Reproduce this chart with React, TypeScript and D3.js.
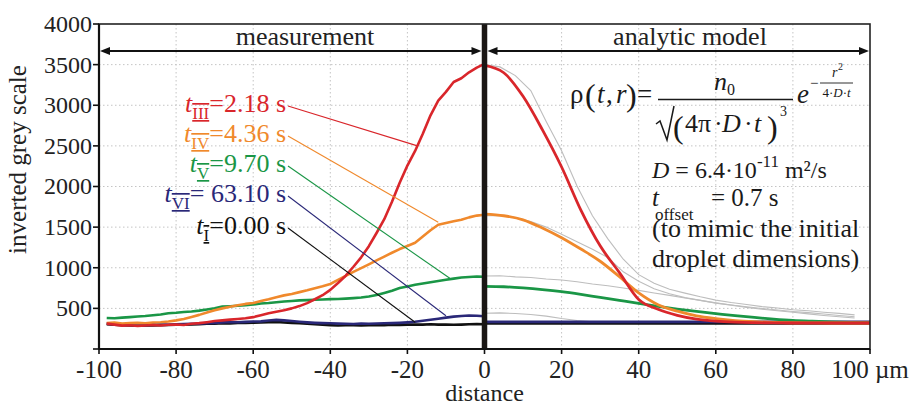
import React from 'react'
import * as d3 from 'd3'

// measured profiles, left half (distance in µm)
const measDist = [-98, -96, -94, -92, -90, -88, -86, -84, -82, -80, -78, -76, -74, -72, -70, -68, -66, -64, -62, -60, -58, -56, -54, -52, -50, -48, -46, -44, -42, -40, -38, -36, -34, -32, -30, -28, -26, -24, -22, -20, -18, -16, -14, -12, -10, -8, -6, -4, -2, 0]
const measRed = [312, 300, 288, 292, 284, 290, 296, 289, 298, 302, 296, 310, 318, 330, 344, 352, 362, 370, 378, 392, 415, 440, 458, 476, 500, 528, 565, 612, 662, 728, 812, 902, 1012, 1128, 1265, 1428, 1598, 1812, 2045, 2258, 2438, 2650, 2876, 3058, 3165, 3286, 3332, 3405, 3462, 3510]
const measOrange = [318, 325, 312, 318, 322, 316, 326, 330, 338, 352, 370, 395, 420, 448, 476, 500, 520, 538, 555, 566, 590, 612, 638, 660, 678, 700, 722, 748, 772, 800, 850, 900, 950, 995, 1042, 1090, 1138, 1185, 1230, 1268, 1308, 1385, 1462, 1530, 1552, 1572, 1590, 1620, 1642, 1652]
const measGreen = [382, 378, 386, 392, 400, 406, 416, 425, 440, 446, 456, 462, 472, 486, 502, 522, 526, 532, 540, 548, 560, 566, 576, 584, 590, 598, 602, 606, 610, 614, 616, 620, 626, 634, 646, 664, 690, 718, 750, 770, 790, 806, 822, 836, 852, 866, 880, 886, 892, 890]
const measNavy = [312, 306, 300, 296, 298, 294, 300, 302, 298, 304, 306, 310, 312, 318, 322, 328, 332, 330, 334, 338, 340, 350, 358, 352, 344, 336, 328, 322, 318, 316, 312, 310, 308, 312, 310, 314, 316, 318, 322, 328, 336, 348, 360, 372, 386, 398, 406, 412, 410, 404]
const measBlack = [306, 300, 294, 290, 288, 292, 290, 294, 296, 298, 300, 302, 306, 310, 312, 316, 314, 320, 322, 324, 326, 330, 334, 326, 320, 316, 310, 304, 298, 294, 290, 292, 294, 290, 292, 296, 294, 298, 296, 300, 302, 300, 304, 300, 302, 298, 300, 304, 306, 304]

// measured profiles, right half (grey, behind the model)
const grayDist = [0, 4, 8, 12, 16, 20, 24, 28, 32, 36, 40, 44, 48, 52, 56, 60, 64, 68, 72, 76, 80, 84, 88, 92, 96]
const grayRed = [3500, 3472, 3365, 3180, 2800, 2440, 2005, 1640, 1355, 1105, 915, 808, 735, 688, 642, 602, 572, 548, 522, 505, 484, 470, 452, 438, 420]
const grayOrange = [1640, 1645, 1618, 1570, 1500, 1412, 1320, 1228, 1126, 950, 835, 742, 680, 632, 598, 568, 542, 520, 498, 480, 462, 448, 430, 412, 396]
const grayGreen = [898, 902, 888, 880, 862, 850, 828, 800, 778, 750, 722, 690, 660, 628, 598, 565, 540, 512, 490, 470, 452, 432, 412, 396, 382]
const grayNavyDist = [0, 4, 8, 12, 16, 20, 24, 28, 32, 36, 40]
const grayNavy = [440, 445, 436, 425, 405, 375, 350, 336, 328, 324, 320]

// analytic model, right half
const modelDist = [0, 5, 10, 15, 20, 25, 30, 35, 40, 45, 50, 55, 60, 65, 70, 75, 80, 85, 90, 95, 100]
const modelRed = [3490, 3400, 3110, 2700, 2240, 1710, 1270, 940, 610, 490, 415, 368, 343, 330, 324, 321, 320, 320, 320, 320, 320]
const modelOrange = [1660, 1640, 1590, 1490, 1370, 1230, 1080, 890, 690, 545, 465, 408, 374, 350, 336, 328, 323, 321, 320, 320, 320]
const modelGreen = [770, 766, 752, 732, 706, 672, 634, 598, 562, 526, 492, 462, 436, 410, 388, 368, 352, 342, 334, 328, 325]
const modelNavy = [335, 335, 335, 335, 335, 335, 335, 335, 335, 335, 335, 335, 335, 335, 335, 335, 335, 335, 335, 335, 335]
const modelBlack = [316, 316, 316, 316, 316, 316, 316, 316, 316, 316, 316, 316, 316, 316, 316, 316, 316, 316, 316, 316, 316]

const xTicks = [-100, -80, -60, -40, -20, 0, 20, 40, 60, 80, 100]
const xTickLabels = ['-100', '-80', '-60', '-40', '-20', '0', '20', '40', '60', '80', '100 µm']
const yTicks = [0, 500, 1000, 1500, 2000, 2500, 3000, 3500, 4000]
const yTickLabels = ['', '500', '1000', '1500', '2000', '2500', '3000', '3500', '4000']

const RED = '#d9262b'
const ORANGE = '#f0892c'
const GREEN = '#1a9646'
const NAVY = '#2a2878'
const BLACK = '#111111'
const GRAY = '#bdbdbd'

// time labels with the point on the curve each leader points to
const timeSubs = ['III', 'IV', 'V', 'VI', 'I']
const timeTexts = ['=2.18 s', '=4.36 s', '=9.70 s', '= 63.10 s', '=0.00 s']
const timeColors = [RED, ORANGE, GREEN, NAVY, BLACK]
const leaderDist = [-17.4, -12, -9, -10, -18]
const leaderValue = [2500, 1560, 870, 410, 330]

const SERIF = '"Liberation Serif", "Times New Roman", Times, serif'

export default function App() {
  const W = 914
  const H = 405
  const x = d3.scaleLinear().domain([-100, 100]).range([99, 870])
  const y = d3.scaleLinear().domain([0, 4000]).range([349, 24])

  const path = (xs: number[], ys: number[], curve: d3.CurveFactory = d3.curveLinear) =>
    d3.line<number>()
      .x((d, i) => x(xs[i]))
      .y(d => y(d))
      .curve(curve)(ys) || ''

  const x0 = x(0)
  const top = y(4000)
  const bottom = y(0)
  const arrowY = 51

  const arrowHead = (tipX: number, dir: number) =>
    `M${tipX},${arrowY} L${tipX - dir * 10},${arrowY - 4} L${tipX - dir * 10},${arrowY + 4} Z`

  const labelY = [112, 142, 172, 202, 234]

  return (
    <svg width={W} height={H} style={{ position: 'absolute', left: 0, top: 0, background: '#fff', fontFamily: SERIF }}>
      {/* grid */}
      <g stroke="#c4c4c4" strokeWidth={1} strokeDasharray="1.5,2.5">
        {xTicks.filter(t => t !== 0 && Math.abs(t) !== 100).map(t => (
          <line key={'gx' + t} x1={x(t)} x2={x(t)} y1={top} y2={bottom} />
        ))}
        {yTicks.filter(t => t !== 0 && t !== 4000).map(t => (
          <line key={'gy' + t} x1={x(-100)} x2={x(100)} y1={y(t)} y2={y(t)} />
        ))}
      </g>

      {/* grey: right half of the measurement */}
      <g fill="none" stroke={GRAY} strokeWidth={1.1}>
        <path d={path(grayDist, grayGreen)} />
        <path d={path(grayNavyDist, grayNavy)} />
        <path d={path(grayDist, grayOrange)} />
        <path d={path(grayDist, grayRed)} />
      </g>

      {/* measurement, left half */}
      <g fill="none" strokeWidth={2.6} strokeLinejoin="round">
        <path d={path(measDist, measBlack)} stroke={BLACK} />
        <path d={path(measDist, measNavy)} stroke={NAVY} />
        <path d={path(measDist, measGreen)} stroke={GREEN} />
        <path d={path(measDist, measOrange)} stroke={ORANGE} />
        <path d={path(measDist, measRed)} stroke={RED} />
      </g>

      {/* model */}
      <g fill="none" strokeWidth={2.8}>
        <path d={path(modelDist, modelBlack)} stroke={BLACK} />
        <path d={path(modelDist, modelNavy)} stroke={NAVY} />
        <path d={path(modelDist, modelGreen, d3.curveMonotoneX)} stroke={GREEN} />
        <path d={path(modelDist, modelOrange, d3.curveMonotoneX)} stroke={ORANGE} />
        <path d={path(modelDist, modelRed, d3.curveMonotoneX)} stroke={RED} />
      </g>

      {/* divider at zero */}
      <line x1={x0} x2={x0} y1={top} y2={bottom} stroke="#1a1614" strokeWidth={5.5} />

      {/* frame + axes */}
      <rect x={x(-100)} y={top} width={x(100) - x(-100)} height={bottom - top} fill="none" stroke="#222" strokeWidth={1.6} />
      <line x1={x(-100)} x2={x(-100)} y1={top} y2={bottom} stroke="#111" strokeWidth={2.2} />
      <line x1={x(-100)} x2={x(100)} y1={bottom} y2={bottom} stroke="#111" strokeWidth={2.2} />

      <g stroke="#111" strokeWidth={1.6}>
        {yTicks.map(t => <line key={'ty' + t} x1={x(-100) - 6} x2={x(-100)} y1={y(t)} y2={y(t)} />)}
        {xTicks.map(t => <line key={'tx' + t} x1={x(t)} x2={x(t)} y1={bottom} y2={bottom + 5} />)}
      </g>
      <g fontSize={24} fill="#222" textAnchor="end" fontFamily={SERIF}>
        {yTicks.map((t, i) => (
          <text key={'ly' + t} x={x(-100) - 7} y={y(t)} dy="0.33em">{yTickLabels[i]}</text>
        ))}
      </g>
      <g fontSize={25} fill="#222" textAnchor="middle" fontFamily={SERIF}>
        {xTicks.map((t, i) => (
          <text key={'lx' + t} x={x(t)} y={378}>{xTickLabels[i]}</text>
        ))}
      </g>
      <text x={x(0)} y={401} fontSize={24} textAnchor="middle" fill="#222" fontFamily={SERIF}>distance</text>
      <text transform={`translate(26,${(y(0) + y(4000)) / 2 - 27}) rotate(-90)`} fontSize={25} textAnchor="middle" fill="#222" fontFamily={SERIF}>
        inverted grey scale
      </text>

      {/* region arrows */}
      <g stroke="#111" strokeWidth={2}>
        <line x1={x(-100) + 4} x2={x0 - 6} y1={arrowY} y2={arrowY} />
        <line x1={x0 + 6} x2={x(100) - 4} y1={arrowY} y2={arrowY} />
      </g>
      <g fill="#111">
        <path d={arrowHead(x(-100) + 1, -1)} />
        <path d={arrowHead(x0 - 3, 1)} />
        <path d={arrowHead(x0 + 3, -1)} />
        <path d={arrowHead(x(100) - 1, 1)} />
      </g>
      <text x={305} y={45} fontSize={26} textAnchor="middle" fill="#222" fontFamily={SERIF}>measurement</text>
      <text x={690} y={45} fontSize={26} textAnchor="middle" fill="#222" fontFamily={SERIF}>analytic model</text>

      {/* time labels and leaders */}
      {timeSubs.map((s, i) => (
        <g key={'tl' + s}>
          <line x1={288} y1={labelY[i] - 6} x2={x(leaderDist[i])} y2={y(leaderValue[i])} stroke={timeColors[i]} strokeWidth={1.1} />
          <text x={286} y={labelY[i]} fontSize={26} textAnchor="end" fill={timeColors[i]} fontFamily={SERIF}>
            <tspan fontStyle="italic">t</tspan>
            <tspan fontSize={17} dy={7} style={{ textDecoration: 'overline underline' }}>{s}</tspan>
            <tspan dy={-7}>{timeTexts[i]}</tspan>
          </text>
        </g>
      ))}

      {/* formula */}
      <g fill="#1a1a1a" fontFamily={SERIF}>
        <text x={570} y={103} fontSize={27}>ρ</text>
        <text x={585} y={106} fontSize={32}>(</text>
        <text x={597} y={103} fontSize={27} fontStyle="italic">t</text>
        <text x={606} y={103} fontSize={27}>,</text>
        <text x={616} y={103} fontSize={27} fontStyle="italic">r</text>
        <text x={626} y={106} fontSize={32}>)</text>
        <text x={637} y={103} fontSize={27}>=</text>
        <line x1={658} x2={793} y1={99.5} y2={99.5} stroke="#1a1a1a" strokeWidth={1.3} />
        <text x={714} y={90} fontSize={26} fontStyle="italic">n</text>
        <text x={727} y={95} fontSize={16}>0</text>
        <path d="M656,124 L660,121 L667,140 L674,106" fill="none" stroke="#1a1a1a" strokeWidth={1.5} />
        <text x={673} y={138} fontSize={32}>(</text>
        <text x={685} y={132} fontSize={26}>4π</text>
        <text x={714} y={132} fontSize={26}>·</text>
        <text x={722} y={132} fontSize={26} fontStyle="italic">D</text>
        <text x={744} y={132} fontSize={26}>·</text>
        <text x={754} y={132} fontSize={26} fontStyle="italic">t</text>
        <text x={767} y={138} fontSize={32}>)</text>
        <text x={780} y={116} fontSize={14}>3</text>
        <text x={797} y={103} fontSize={27} fontStyle="italic">e</text>
        <text x={810} y={88} fontSize={15}>−</text>
        <line x1={820} x2={853} y1={83} y2={83} stroke="#1a1a1a" strokeWidth={0.9} />
        <text x={832} y={77} fontSize={14} fontStyle="italic">r</text>
        <text x={838} y={70} fontSize={10}>2</text>
        <text x={836.5} y={97} fontSize={13} textAnchor="middle">4·<tspan fontStyle="italic">D</tspan>·<tspan fontStyle="italic">t</tspan></text>

        <text x={652} y={178} fontSize={24}>
          <tspan fontStyle="italic">D</tspan> = 6.4·10<tspan fontSize={17} dy={-11}>-11</tspan><tspan dy={11}> m²/s</tspan>
        </text>
        <text x={652} y={206} fontSize={25} fontStyle="italic">t</text>
        <text x={655} y={220} fontSize={17}>offset</text>
        <text x={711} y={206} fontSize={25}>= 0.7 s</text>
        <text x={652} y={237} fontSize={26}>(to mimic the initial</text>
        <text x={652} y={267} fontSize={26}>droplet dimensions)</text>
      </g>
    </svg>
  )
}
